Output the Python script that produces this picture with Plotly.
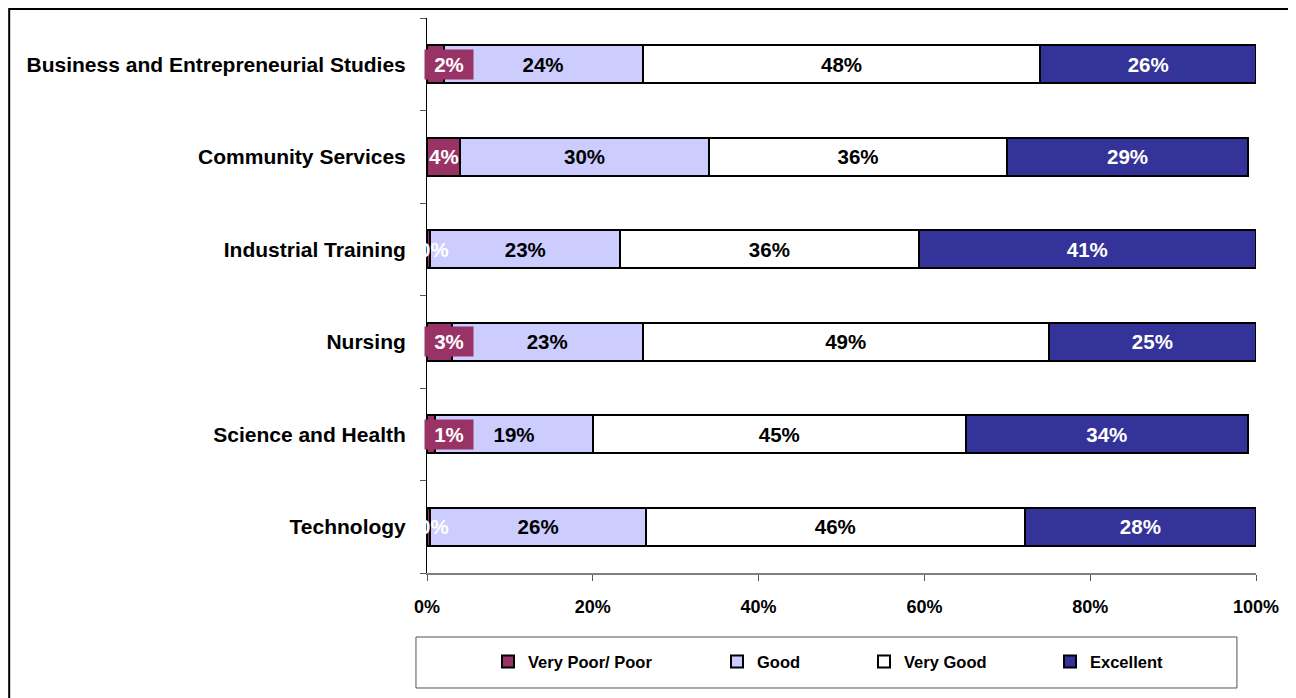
import plotly.graph_objects as go

# Survey ratings by school (percent of respondents)
categories = [
    'Business and Entrepreneurial Studies',
    'Community Services',
    'Industrial Training',
    'Nursing',
    'Science and Health',
    'Technology',
]
very_poor = [2, 4, 0.4, 3, 1, 0.4]
good = [24, 30, 22.9, 23, 19, 26]
very_good = [48, 36, 36, 49, 45, 45.7]
excellent = [26, 29, 40.7, 25, 34, 27.9]

series_names = ['Very Poor/ Poor', 'Good', 'Very Good', 'Excellent']
x_ticks = [0, 20, 40, 60, 80, 100]

FONT = 'Arial, Liberation Sans, sans-serif'
colors = ['#993366', '#CCCCFF', '#FFFFFF', '#333399']
text_colors = ['white', 'black', 'black', 'white']
legend_widths = [184, 102, 141, 100]

fig = go.Figure()
for name, vals, col, tcol, lw in zip(series_names, [very_poor, good, very_good, excellent],
                                     colors, text_colors, legend_widths):
    fig.add_trace(go.Bar(
        y=categories,
        x=vals,
        name=name,
        orientation='h',
        marker=dict(color=col, line=dict(color='black', width=2)),
        texttemplate='%{x:.0f}%',
        textposition='none' if name == 'Very Poor/ Poor' else 'inside',
        insidetextanchor='middle',
        textfont=dict(family=FONT, size=20.5, color=tcol, weight='bold'),
        legendwidth=lw,
        hoverinfo='skip',
    ))

# labels for the thin "Very Poor/ Poor" segments
annotations = []
for cat, v in zip(categories, very_poor):
    label = '%d%%' % round(v)
    font = dict(family=FONT, size=20.5, color='white', weight='bold')
    if 0.5 <= v < 4:
        annotations.append(dict(x=0, y=cat, xref='x', yref='y', text=label, showarrow=False,
                                xanchor='left', xshift=-3, bgcolor='#993366', width=46, height=27,
                                borderpad=1, font=font))
    else:
        annotations.append(dict(x=v / 2, y=cat, xref='x', yref='y', text=label, showarrow=False,
                                xshift=5 if v < 0.5 else 0, font=font))

fig.update_layout(
    barmode='stack',
    bargap=0.59,
    width=1288,
    height=690,
    autosize=False,
    margin=dict(l=419, r=40, t=10, b=125),
    plot_bgcolor='white',
    paper_bgcolor='white',
    font=dict(family=FONT, color='black'),
    annotations=annotations,
    legend=dict(
        orientation='h',
        x=0.0736, y=-0.160,
        xanchor='left', yanchor='middle',
        font=dict(family=FONT, size=16.5, color='black', weight='bold'),
        bgcolor='rgba(0,0,0,0)',
        traceorder='normal',
    ),
    shapes=[
        # legend box
        dict(type='rect', xref='paper', yref='paper', x0=-0.0133, x1=0.977, y0=-0.2072, y1=-0.1153,
             line=dict(color='#555555', width=1)),
        # outer chart border
        dict(type='rect', xref='paper', yref='paper', x0=-0.5040, x1=1.0458, y0=-0.30, y1=1.016,
             line=dict(color='black', width=2)),
    ],
)

fig.update_xaxes(
    range=[0, 100],
    tickvals=x_ticks,
    ticktext=['%d%%' % t for t in x_ticks],
    ticks='outside', ticklen=6, tickcolor='#555555',
    showline=True, linecolor='#808080', linewidth=2,
    showgrid=False, zeroline=False,
    ticklabelstandoff=10,
    tickfont=dict(family=FONT, size=18, color='black', weight='bold'),
)
fig.update_yaxes(
    categoryorder='array',
    categoryarray=categories[::-1],
    ticks='outside', ticklen=6, tickcolor='#555555', tickson='boundaries',
    showline=True, linecolor='black', linewidth=1,
    showgrid=False,
    ticklabelstandoff=16,
    tickfont=dict(family=FONT, size=21, color='black', weight='bold'),
)

fig.write_html('out.html')
